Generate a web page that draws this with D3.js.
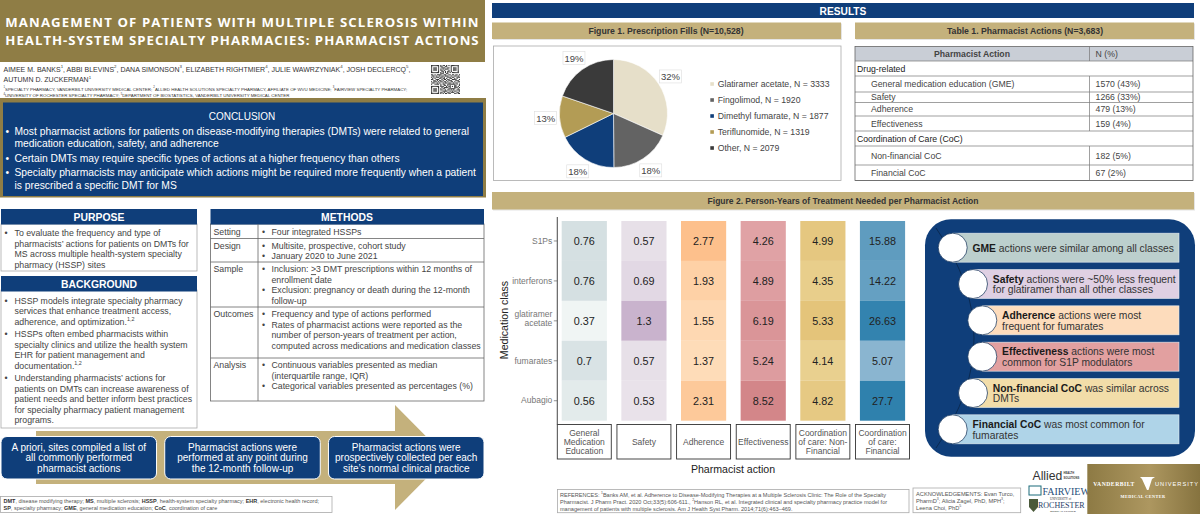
<!DOCTYPE html>
<html>
<head>
<meta charset="utf-8">
<title>Pharmacist actions poster</title>
<script src="https://cdn.jsdelivr.net/npm/d3@7"></script>
<style>
  html, body { margin: 0; padding: 0; background: #fff; overflow: hidden; }
  svg { display: block; font-family: "Liberation Sans", Arial, sans-serif; }
</style>
</head>
<body>
<svg id="poster" width="1200" height="514"></svg>
<script>
// ---------------- DATA: FIGURE 1 ----------------
const drugNames = ["Glatiramer acetate", "Fingolimod", "Dimethyl fumarate", "Teriflunomide", "Other"];
const drugFills = [3333, 1920, 1877, 1319, 2079];
const drugPercents = ["32%", "18%", "18%", "13%", "19%"];
const drugColors = ["#e6dfc9", "#636363", "#0f3e7a", "#b39c55", "#3a3a3a"];

// ---------------- DATA: FIGURE 2 ----------------
const medClasses = ["S1Ps", "interferons", "glatiramer acetate", "fumarates", "Aubagio"];
const actions = ["General|Medication|Education", "Safety", "Adherence", "Effectiveness", "Coordination|of care: Non-|Financial", "Coordination|of care:|Financial"];
const gmeValues = [0.76, 0.76, 0.37, 0.7, 0.56];
const safetyValues = [0.57, 0.69, 1.3, 0.57, 0.53];
const adherenceValues = [2.77, 1.93, 1.55, 1.37, 2.31];
const effectivenessValues = [4.26, 4.89, 6.19, 5.24, 8.52];
const nonFinancialValues = [4.99, 4.35, 5.33, 4.14, 4.82];
const financialValues = [15.88, 14.22, 26.63, 5.07, 27.7];
const actionValues = [gmeValues, safetyValues, adherenceValues, effectivenessValues, nonFinancialValues, financialValues];
const heatLow = ["#f0f5f4", "#e9e2ea", "#fedcb8", "#e0a2a5", "#e9d08f", "#8ab5d0"];
const heatHigh = ["#d5e0e2", "#c9b3cd", "#fdc08c", "#d38689", "#e4c47a", "#2f81ad"];

// ---------------- DATA: TABLE 1 ----------------
const tableHeader = ["Pharmacist Action", "N (%)"];
const tableRows = [
  ["Drug-related", ""],
  ["General medication education (GME)", "1570 (43%)"],
  ["Safety", "1266 (33%)"],
  ["Adherence", "479 (13%)"],
  ["Effectiveness", "159 (4%)"],
  ["Coordination of Care (CoC)", ""],
  ["Non-financial CoC", "182 (5%)"],
  ["Financial CoC", "67 (2%)"]
];

// ---------------- DATA: TEXT ----------------
const titleLines = ["MANAGEMENT OF PATIENTS WITH MULTIPLE SCLEROSIS WITHIN", "HEALTH-SYSTEM SPECIALTY PHARMACIES: PHARMACIST ACTIONS"];
const authorLines = ["AIMEE M. BANKS^1^, ABBI BLEVINS^2^, DANA SIMONSON^3^, ELIZABETH RIGHTMIER^4^, JULIE WAWRZYNIAK^4^, JOSH DECLERCQ^5^,", "AUTUMN D. ZUCKERMAN^1^"];
const affilLines = ["^1^SPECIALTY PHARMACY, VANDERBILT UNIVERSITY MEDICAL CENTER; ^2^ALLIED HEALTH SOLUTIONS SPECIALTY PHARMACY, AFFILIATE OF WVU MEDICINE; ^3^FAIRVIEW SPECIALTY PHARMACY;", "^4^UNIVERSITY OF ROCHESTER SPECIALTY PHARMACY; ^5^DEPARTMENT OF BIOSTATISTICS, VANDERBILT UNIVERSITY MEDICAL CENTER"];
const conclusionText = [
  ["Most pharmacist actions for patients on disease-modifying therapies (DMTs) were related to general", "medication education, safety, and adherence"],
  ["Certain DMTs may require specific types of actions at a higher frequency than others"],
  ["Specialty pharmacists may anticipate which actions might be required more frequently when a patient", "is prescribed a specific DMT for MS"]
];
const purposeText = [
  ["To evaluate the frequency and type of", "pharmacists\u2019 actions for patients on DMTs for", "MS across multiple health-system specialty", "pharmacy (HSSP) sites"]
];
const backgroundText = [
  ["HSSP models integrate specialty pharmacy", "services that enhance treatment access,", "adherence, and optimization.^1,2^"],
  ["HSSPs often embed pharmacists within", "specialty clinics and utilize the health system", "EHR for patient management and", "documentation.^1,2^"],
  ["Understanding pharmacists\u2019 actions for", "patients on DMTs can increase awareness of", "patient needs and better inform best practices", "for specialty pharmacy patient management", "programs."]
];
const methodLabels = ["Setting", "Design", "Sample", "Outcomes", "Analysis"];
const methodText = [
  [["Four integrated HSSPs"]],
  [["Multisite, prospective, cohort study"], ["January 2020 to June 2021"]],
  [["Inclusion: _>_3 DMT prescriptions within 12 months of", "enrollment date"], ["Exclusion: pregnancy or death during the 12-month", "follow-up"]],
  [["Frequency and type of actions performed"], ["Rates of pharmacist actions were reported as the", "number of person-years of treatment per action,", "computed across medications and medication classes"]],
  [["Continuous variables presented as median", "(interquartile range, IQR)"], ["Categorical variables presented as percentages (%)"]]
];
const stepText = [
  ["A priori, sites compiled a list of", "all commonly performed", "pharmacist actions"],
  ["Pharmacist actions were", "performed at any point during", "the 12-month follow-up"],
  ["Pharmacist actions were", "prospectively collected per each", "site\u2019s normal clinical practice"]
];
const abbrevLines = [
  "*DMT*, disease modifying therapy; *MS*, multiple sclerosis; *HSSP*, health-system specialty pharmacy; *EHR*, electronic health record;",
  "*SP*, specialty pharmacy; *GME*, general medication education; *CoC*, coordination of care"
];
const findingText = [
  ["*GME* actions were similar among all classes"],
  ["*Safety* actions were ~50% less frequent", "for glatiramer than all other classes"],
  ["*Adherence* actions were most", "frequent for fumarates"],
  ["*Effectiveness* actions were most", "common for S1P modulators"],
  ["*Non-financial CoC* was similar across", "DMTs"],
  ["*Financial CoC* was most common for", "fumarates"]
];
const findingColors = ["#bccfcd", "#dfd0e3", "#fddcbc", "#e2a0a0", "#f2dda9", "#afd4e8"];
const referenceLines = [
  "REFERENCES: ^1^Banks AM, et al. Adherence to Disease-Modifying Therapies at a Multiple Sclerosis Clinic: The Role of the Specialty",
  "Pharmacist. J Pharm Pract. 2020 Oct;33(5):606-611., ^2^Hanson RL, et al. Integrated clinical and specialty pharmacy practice model for",
  "management of patients with multiple sclerosis. Am J Health Syst Pharm. 2014;71(6):463\u2013469."
];
const ackLines = ["ACKNOWLEDGEMENTS: Evan Turco,", "PharmD^3^; Alicia Zagel, PhD, MPH^3^;", "Leena Choi, PhD^5^"];
const qrRows = [
  "1111111010110101011111110", "1000001011001100010000010", "1011101001110011010111010",
  "1011101010101110010111010", "1011101011010001010111010", "1000001001101011010000010",
  "1111111010101010101111110", "0000000011100110000000000", "1101011110011001101101101",
  "0110100101101110010011010", "1010111011010011101100111", "0101000110110100110010100",
  "1100111001011011001111001", "0011010110100101110001110", "1011101011011010011010011",
  "0110010100101101100101100", "1001111010110011111110101", "0000000010011010100011001",
  "1111111011100101101011010", "1000001001011110100011101", "1011101010110001111110010",
  "1011101011001011010100111", "1011101000111100101011001", "1000001011010011011100110",
  "1111111010101101100011011"
];

const NAVY = "#0f3e7a", GOLD = "#8f7d45", TAN = "#c4b17c", GREY_TEXT = "#444";
const svg = d3.select("#poster");

// ---------------- HELPERS ----------------
// *bold*, ^superscript^ and _underline_ are handled as tspans
function addText(parent, x, y, str, o = {}) {
  const size = o.size || 8;
  const t = parent.append("text")
    .attr("x", x).attr("y", y)
    .attr("dominant-baseline", "central")
    .attr("text-anchor", o.anchor || "start")
    .attr("font-size", size)
    .attr("fill", o.fill || GREY_TEXT)
    .attr("font-weight", o.weight || null)
    .attr("font-family", o.family || null)
    .attr("letter-spacing", o.spacing || null);
  let backDown = 0;
  str.split(/(\*[^*]+\*|\^[^^]+\^|_[^_]+_)/).filter(s => s).forEach(s => {
    const mark = s[0], body = s.slice(1, -1);
    const span = t.append("tspan");
    if (backDown) span.attr("dy", backDown);
    backDown = 0;
    if (mark === "*") span.attr("font-weight", "bold").attr("fill", o.boldFill || o.fill || GREY_TEXT).text(body);
    else if (mark === "^") {
      span.attr("font-size", size * 0.62).attr("dy", -size * 0.32).text(body);
      backDown = size * 0.32;
    }
    else if (mark === "_") span.attr("text-decoration", "underline").text(body);
    else span.text(s);
  });
  return t;
}

function box(parent, x0, y0, x1, y1, fill, stroke, sw, r) {
  return parent.append("rect")
    .attr("x", x0).attr("y", y0).attr("width", x1 - x0).attr("height", y1 - y0)
    .attr("fill", fill || "none").attr("stroke", stroke || "none")
    .attr("stroke-width", sw || 0).attr("rx", r || 0);
}

function bullets(parent, paragraphs, bx, tx, y0, lh, gap, o) {
  let y = y0;
  paragraphs.forEach(lines => {
    addText(parent, bx, y, "\u2022", o);
    lines.forEach((line, i) => {
      addText(parent, tx, y, line, o);
      y += i < lines.length - 1 ? lh : gap;
    });
  });
  return y;
}

function band(x0, y0, x1, y1, fill) {
  box(svg, x0 + 1, y0 + 1, x1 + 1, y1 + 1, "#e4e4e4");
  box(svg, x0, y0, x1, y1, fill);
}

// ---------------- LEFT COLUMN ----------------
box(svg, 0, 0, 485, 62, GOLD);
const titleSpacing = [1.11, 1.0];
titleLines.forEach((line, i) => addText(svg, 242.5, 22 + i * 18, line, { anchor: "middle", size: 13.2, weight: "bold", fill: "#fff", family: "'Open Sans'", spacing: titleSpacing[i] }));
authorLines.forEach((line, i) => addText(svg, 3.5, 68.5 + i * 10.7, line, { size: 7, fill: "#333" }));
affilLines.forEach((line, i) => addText(svg, 3.5, 88.7 + i * 6.5, line, { size: 4.4, fill: "#333" }));

const qrCell = d3.scaleBand().domain(d3.range(25)).range([431, 460]);
const qr = svg.append("g").attr("fill", "#333");
qrRows.forEach((row, r) => {
  row.split("").forEach((bit, c) => {
    if (bit === "1") qr.append("rect").attr("x", qrCell(c)).attr("y", qrCell(r) - 366).attr("width", qrCell.bandwidth()).attr("height", qrCell.bandwidth());
  });
});

box(svg, 0, 98, 486, 197.5, GOLD);
box(svg, 3, 102.5, 483, 196, NAVY);
addText(svg, 242, 115.7, "CONCLUSION", { anchor: "middle", size: 10, fill: "#fff" });
bullets(svg, conclusionText, 5.5, 14.5, 130.7, 12.3, 14.7, { size: 10.3, fill: "#fff" });

box(svg, 1, 224, 197, 271, "#fff", "#aaa", 0.8);
box(svg, 1, 209, 197, 224.5, NAVY);
addText(svg, 99, 217, "PURPOSE", { anchor: "middle", size: 10.4, weight: "bold", fill: "#fff" });
bullets(svg, purposeText, 4.5, 14.5, 233, 10.5, 12.6, { size: 8.75 });

box(svg, 1, 290, 197, 428, "#fff", "#aaa", 0.8);
box(svg, 1, 276, 197, 291.5, NAVY);
addText(svg, 99, 283.5, "BACKGROUND", { anchor: "middle", size: 10.4, weight: "bold", fill: "#fff" });
bullets(svg, backgroundText, 4.5, 14.5, 300.7, 10.45, 12.6, { size: 8.75 });

// Methods table
const methodLinesY = [224.5, 238.5, 262, 307, 358, 401];
box(svg, 210.5, 224, 484, 401, "#fff", "#666", 0.8);
box(svg, 210.5, 209, 484, 224.5, NAVY);
addText(svg, 347, 217, "METHODS", { anchor: "middle", size: 10.4, weight: "bold", fill: "#fff" });
svg.append("g").attr("stroke", "#666").attr("stroke-width", 0.8).selectAll("line")
  .data(methodLinesY.slice(1, -1)).join("line")
  .attr("x1", 210.5).attr("x2", 484).attr("y1", d => d).attr("y2", d => d);
svg.append("line").attr("x1", 258).attr("x2", 258).attr("y1", 224).attr("y2", 401).attr("stroke", "#666").attr("stroke-width", 0.8);
methodLabels.forEach((label, i) => {
  const y = methodLinesY[i] + 7.2;
  addText(svg, 213.5, y, label, { size: 8.75 });
  bullets(svg, methodText[i], 262, 271.5, y, 10.5, 10.6, { size: 8.75 });
});

// Gold arrow behind the three steps
const arrow = d3.path();
arrow.moveTo(36, 431); arrow.lineTo(395, 431); arrow.lineTo(395, 405); arrow.lineTo(447, 457.5);
arrow.lineTo(395, 510); arrow.lineTo(395, 484); arrow.lineTo(36, 484); arrow.closePath();
svg.append("path").attr("d", arrow.toString()).attr("fill", TAN);

const stepX = d3.scaleBand().domain(d3.range(3)).range([1, 484]).paddingInner(0.05);
stepText.forEach((lines, i) => {
  box(svg, stepX(i), 436.5, stepX(i) + stepX.bandwidth(), 479, NAVY, "#fff", 1, 6);
  const cx = stepX(i) + stepX.bandwidth() / 2;
  lines.forEach((line, j) => addText(svg, cx, 447 + j * 10.3, line, { anchor: "middle", size: 10, fill: "#fff" }));
});

box(svg, 0.5, 496.5, 332, 512.5, "#fff", "#aaa", 0.8);
abbrevLines.forEach((line, i) => addText(svg, 3.5, 501 + i * 7, line, { size: 5.5, fill: "#555", boldFill: "#333" }));

// ---------------- RESULTS HEADERS ----------------
box(svg, 492, 3, 1194, 18, NAVY);
addText(svg, 843, 11, "RESULTS", { anchor: "middle", size: 10.2, weight: "bold", fill: "#fff" });
band(492, 22.5, 841, 39, TAN);
addText(svg, 666, 31, "Figure 1. Prescription Fills (N=10,528)", { anchor: "middle", size: 8.7, weight: "bold", fill: "#333" });
band(855, 22.5, 1194, 39, TAN);
addText(svg, 1025, 31, "Table 1. Pharmacist Actions (N=3,683)", { anchor: "middle", size: 8.7, weight: "bold", fill: "#333" });

// ---------------- FIGURE 1: PIE ----------------
box(svg, 493.5, 46, 841, 180.5, "#fff", "#aaa", 0.8);
const pieG = svg.append("g").attr("transform", "translate(613.5,113.5)");
const pie = d3.pie().sort(null)(drugFills);
const sliceArc = d3.arc().innerRadius(0).outerRadius(54);
const labelArc = d3.arc().innerRadius(68).outerRadius(68);
pieG.selectAll("path").data(pie).join("path")
  .attr("d", sliceArc)
  .attr("fill", (d, i) => drugColors[i])
  .attr("stroke", "#fff").attr("stroke-width", 0.6);
pie.forEach((d, i) => {
  const [lx, ly] = labelArc.centroid(d);
  box(pieG, lx - 11, ly - 6.5, lx + 11, ly + 6.5, "#fff", "#ddd", 0.6);
  addText(pieG, lx, ly, drugPercents[i], { anchor: "middle", size: 9.5 });
});
const legendY = d3.scalePoint().domain(drugNames).range([84, 148]);
drugNames.forEach((name, i) => {
  box(svg, 710.3, legendY(name) - 1.8, 713.9, legendY(name) + 1.8, drugColors[i]);
  addText(svg, 717.7, legendY(name), `${name}, N = ${drugFills[i]}`, { size: 8.7 });
});

// ---------------- TABLE 1 ----------------
const tableLinesY = [61, 76, 92, 102.5, 116, 131, 146, 165, 180.5];
box(svg, 855, 46.5, 1193, 61, "#c9ced6");
addText(svg, 972, 54, tableHeader[0], { anchor: "middle", size: 8.7, weight: "bold", fill: "#444" });
addText(svg, 1095.6, 54, tableHeader[1], { size: 8.7 });
tableRows.forEach((row, i) => {
  const y = (tableLinesY[i] + tableLinesY[i + 1]) / 2;
  if (row[1]) {
    addText(svg, 871, y, row[0], { size: 8.7 });
    addText(svg, 1095.6, y, row[1], { size: 8.7 });
  } else {
    addText(svg, 857, y, row[0], { size: 8.7, fill: "#222" });
  }
});
svg.append("g").attr("stroke", "#777").attr("stroke-width", 0.7).selectAll("line")
  .data(tableLinesY).join("line")
  .attr("x1", 855).attr("x2", 1193).attr("y1", d => d).attr("y2", d => d);
box(svg, 855, 46.5, 1193, 180.5, "none", "#666", 0.8);
[[46.5, 61], [76, 131], [146, 180.5]].forEach(([a, b]) => {
  svg.append("line").attr("x1", 1089.5).attr("x2", 1089.5).attr("y1", a).attr("y2", b).attr("stroke", "#777").attr("stroke-width", 0.7);
});

// ---------------- FIGURE 2: HEATMAP ----------------
band(492, 192, 1194, 209.5, TAN);
addText(svg, 843, 200.7, "Figure 2. Person-Years of Treatment Needed per Pharmacist Action", { anchor: "middle", size: 8.5, weight: "bold", fill: "#333" });

const x = d3.scaleBand().domain(actions).range([557.3, 909.5]).paddingInner(0.095);
const y = d3.scaleBand().domain(medClasses).range([221, 420.7]);
const inset = 4.4;

actions.forEach((action, a) => {
  const vals = actionValues[a];
  const color = d3.scaleLinear().domain(d3.extent(vals)).range([heatLow[a], heatHigh[a]]);
  const col = svg.append("g");
  col.selectAll("rect").data(vals).join("rect")
    .attr("x", x(action) + inset)
    .attr("y", (d, i) => y(medClasses[i]))
    .attr("width", x.bandwidth() - inset * 2)
    .attr("height", y.bandwidth())
    .attr("fill", d => color(d));
  vals.forEach((v, i) => {
    addText(col, x(action) + x.bandwidth() / 2, y(medClasses[i]) + y.bandwidth() / 2, String(v), { anchor: "middle", size: 10.8, fill: "#222" });
  });
  // strip box with the action name
  box(svg, x(action), 424.5, x(action) + x.bandwidth(), 459, "#fff", "#333", 0.9);
  const parts = action.split("|");
  parts.forEach((p, j) => {
    addText(svg, x(action) + x.bandwidth() / 2, 441.8 + (j - (parts.length - 1) / 2) * 9.3, p, { anchor: "middle", size: 8.5, fill: "#555" });
  });
});

const yAxis = svg.append("g").attr("transform", "translate(557.3,0)")
  .call(d3.axisLeft(y).tickSize(3.5).tickPadding(1.5));
yAxis.select(".domain").remove();
yAxis.selectAll(".tick line").attr("stroke", "#666").attr("stroke-width", 0.7);
yAxis.selectAll(".tick text")
  .attr("font-size", 8.5).attr("fill", "#777").attr("font-family", "'Liberation Sans'")
  .each(function (d) {
    const words = d.split(" ");
    if (words.length < 2) return;
    const t = d3.select(this).text(null);
    words.forEach((w, i) => t.append("tspan").attr("x", -5).attr("dy", i ? "1.05em" : "-0.5em").text(w));
  });
svg.append("line").attr("x1", 557.3).attr("x2", 557.3).attr("y1", 217).attr("y2", 424.5).attr("stroke", "#555").attr("stroke-width", 1.1);

addText(svg, 733, 469, "Pharmacist action", { anchor: "middle", size: 10.6, fill: "#222" });
addText(svg, 0, 0, "Medication class", { anchor: "middle", size: 10.6, fill: "#222" })
  .attr("transform", "translate(504,320) rotate(-90)");

// ---------------- KEY FINDINGS PANEL ----------------
box(svg, 925, 219.3, 1195, 456.7, NAVY, null, 0, 26);
const spine = d3.path();
spine.moveTo(936, 228);
spine.quadraticCurveTo(1012, 338, 936, 448);
svg.append("path").attr("d", spine.toString()).attr("fill", "none").attr("stroke", "#0a2a52").attr("stroke-width", 1);

const findY = d3.scaleBand().domain(d3.range(6)).range([229.5, 447.5]);
const findCircleX = [952.7, 973, 982.3, 982.3, 973, 952.7];
findingText.forEach((lines, i) => {
  const cy = findY(i) + findY.bandwidth() / 2;
  box(svg, findCircleX[i], cy - 14.5, 1179, cy + 14.5, findingColors[i], "#e8eef2", 0.6);
  svg.append("circle").attr("cx", findCircleX[i]).attr("cy", cy).attr("r", 14.5)
    .attr("fill", "#fff").attr("stroke", "#0a2a52").attr("stroke-width", 0.7);
  const tx = findCircleX[i] + 19.8;
  lines.forEach((line, j) => {
    addText(svg, tx, cy + (j - (lines.length - 1) / 2) * 10.7, line, { size: 10.3, fill: "#333", boldFill: "#1a1a1a" });
  });
});

// ---------------- FOOTER ----------------
box(svg, 557.5, 489.5, 909, 512.7, "#fff", "#aaa", 0.8);
referenceLines.forEach((line, i) => addText(svg, 560, 494.5 + i * 7, line, { size: 5.55, fill: "#555" }));
box(svg, 913, 488, 1020.7, 512.7, "#fff", "#aaa", 0.8);
ackLines.forEach((line, i) => addText(svg, 916, 493.5 + i * 7, line, { size: 5.7, fill: "#555" }));

// Sponsor marks
addText(svg, 1032.5, 476, "Allied", { size: 12.2, fill: "#333" });
addText(svg, 1063.5, 473, "HEALTH", { size: 2.7, weight: "bold", fill: "#333" });
addText(svg, 1063.5, 478, "SOLUTIONS", { size: 2.7, weight: "bold", fill: "#333" });
box(svg, 1029, 486, 1041, 495, "none", "#1a6b7a", 1);
addText(svg, 1042.5, 490.5, "FAIRVIEW", { size: 10, fill: "#1f4e7a", family: "'Liberation Serif'" });
svg.append("path").attr("d", "M1029,499h9v8l-4.5,5l-4.5,-5z").attr("fill", "#4a5a3a");
addText(svg, 1050, 499.2, "UNIVERSITY of", { size: 3, fill: "#333", family: "'Liberation Serif'" });
addText(svg, 1038, 505, "ROCHESTER", { size: 8, fill: "#1f3e6a", family: "'Liberation Serif'" });
addText(svg, 1050, 510.8, "MEDICAL CENTER", { size: 2.8, weight: "bold", fill: "#333", family: "'Liberation Serif'" });

const vuGrad = svg.append("defs").append("linearGradient").attr("id", "vuGold");
vuGrad.append("stop").attr("offset", "0%").attr("stop-color", "#8d7a44");
vuGrad.append("stop").attr("offset", "55%").attr("stop-color", "#ad9760");
vuGrad.append("stop").attr("offset", "100%").attr("stop-color", "#86733f");
box(svg, 1087.3, 464, 1200, 514, "url(#vuGold)");
addText(svg, 1114, 484, "VANDERBILT", { anchor: "middle", size: 5.7, weight: "bold", fill: "#fff", family: "'Liberation Serif'", spacing: 0.5 });
svg.append("path").attr("d", "M1140,477h15l-3,2l-3.5,11h-1.5l-5,-11z").attr("fill", "#fff");
addText(svg, 1177, 484, "UNIVERSITY", { anchor: "middle", size: 5.7, fill: "#fff", spacing: 1 });
addText(svg, 1143, 496, "MEDICAL CENTER", { anchor: "middle", size: 4.3, weight: "bold", fill: "#fff", family: "'Liberation Serif'", spacing: 0.4 });
</script>
</body>
</html>
